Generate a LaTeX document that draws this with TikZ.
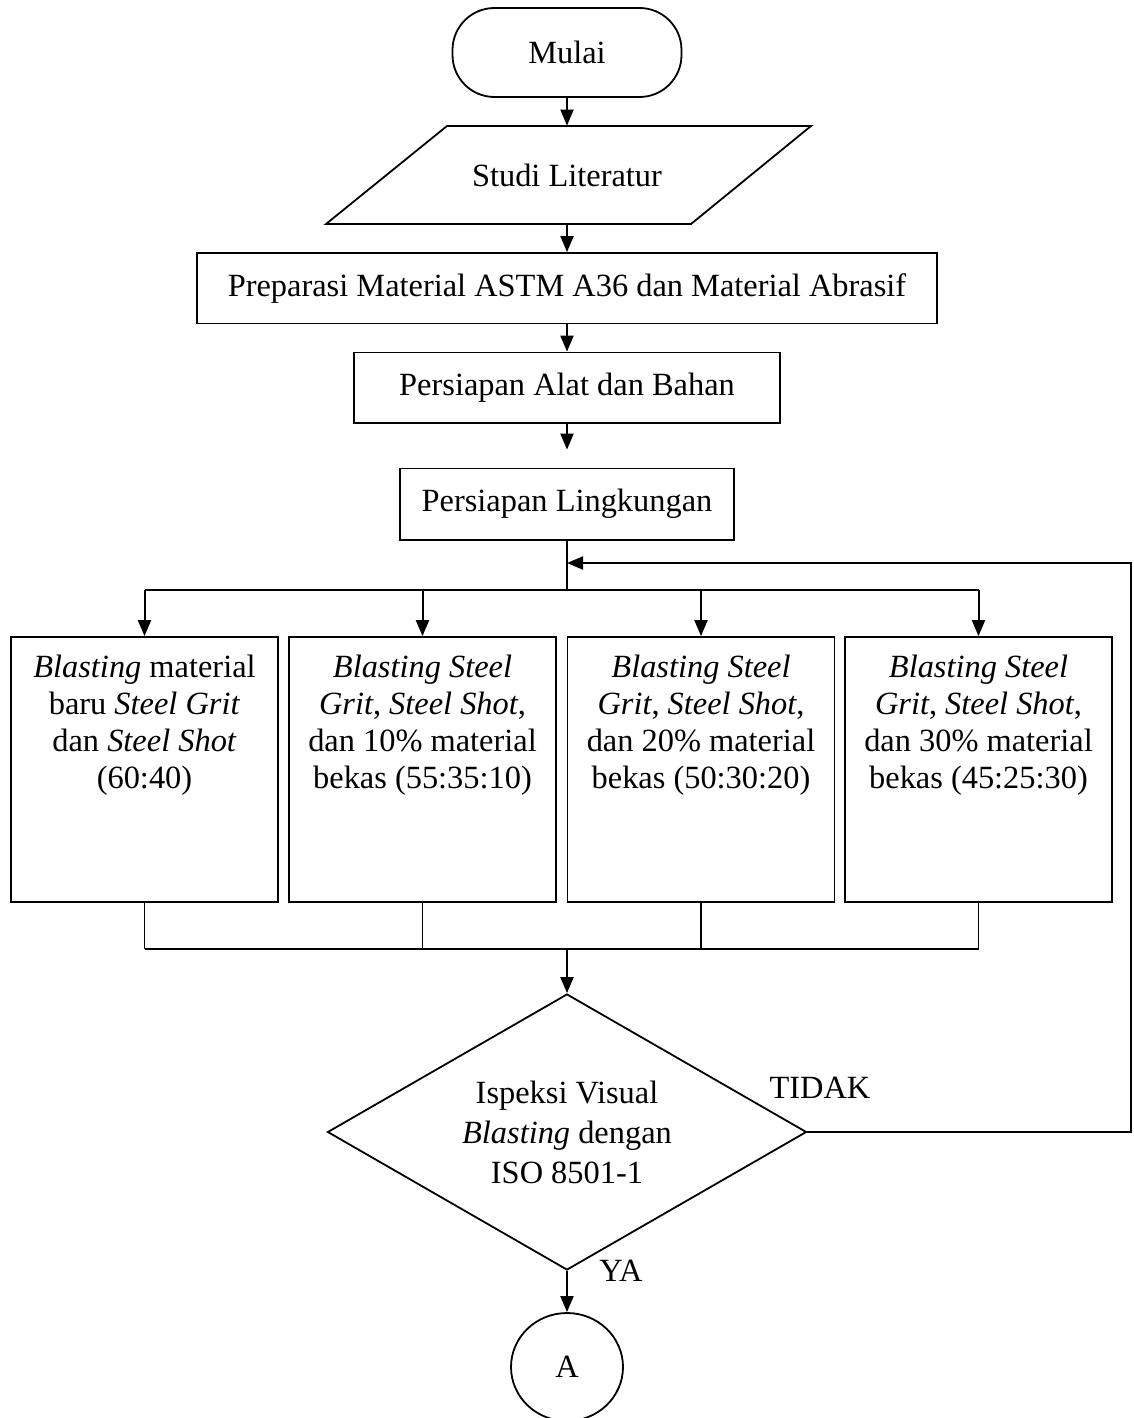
\documentclass[tikz,border=0pt]{standalone}
\usepackage{fontspec}
\setmainfont{Liberation Serif}
\usetikzlibrary{arrows.meta,shapes.geometric,calc}
\begin{document}
\begin{tikzpicture}[x=0.5pt,y=-0.5pt,
  every node/.style={font=\fontsize{16.2}{18.5}\selectfont},
  proc/.style={draw, line width=0.9pt, inner sep=0pt, align=center},
  arr/.style={line width=1pt, -{Triangle[length=8pt,width=6.5pt]}},
  ln/.style={line width=1pt},
  thinln/.style={line width=0.6pt},
  bigbox/.style={draw, line width=0.9pt, minimum width=133.5pt, minimum height=132.5pt, inner sep=0pt},
  boxtext/.style={anchor=north, inner sep=0pt, align=center}]
\useasboundingbox (0,0) rectangle (1134,1418);

\node[proc, rounded corners=21pt, minimum width=114.5pt, minimum height=44.5pt] (mulai) at (567,52.5) {Mulai};

\draw[line width=0.9pt] (447,126) -- (811,126) -- (691,224) -- (326,224) -- cycle;
\node[inner sep=0pt, minimum height=49pt] (studi) at (567,175) {Studi Literatur};

\node[proc, minimum width=369.75pt, minimum height=35.25pt] (prep) at (567,288.25) {Preparasi Material ASTM A36 dan Material Abrasif};
\node[proc, minimum width=212.75pt, minimum height=35.25pt] (alat) at (567,387.75) {Persiapan Alat dan Bahan};
\node[proc, minimum width=167pt, minimum height=35.75pt] (ling) at (567,504.25) {Persiapan Lingkungan};

\node[bigbox] (b1) at (144.5,769.5) {};
\node[bigbox] (b2) at (422.5,769.5) {};
\node[bigbox] (b3) at (701,769.5) {};
\node[bigbox] (b4) at (978.5,769.5) {};

\node[boxtext] (t1) at (144.5,655) {\textit{Blasting} material\\ baru \textit{Steel Grit}\\ dan \textit{Steel Shot}\\ (60:40)};
\node[boxtext] (t2) at (422.5,655) {\textit{Blasting Steel}\\ \textit{Grit}, \textit{Steel Shot},\\ dan 10\% material\\ bekas (55:35:10)};
\node[boxtext] (t3) at (701,655) {\textit{Blasting Steel}\\ \textit{Grit}, \textit{Steel Shot},\\ dan 20\% material\\ bekas (50:30:20)};
\node[boxtext] (t4) at (978.5,655) {\textit{Blasting Steel}\\ \textit{Grit}, \textit{Steel Shot},\\ dan 30\% material\\ bekas (45:25:30)};

\node[draw, diamond, shape aspect=1.735, line width=0.9pt, minimum width=239.5pt, minimum height=138pt, inner sep=0pt, align=center] (dec) at (567,1132) {Ispeksi Visual\\[1.5pt] \textit{Blasting} dengan\\[1.5pt] ISO 8501-1};

\node[draw, ellipse, line width=0.9pt, minimum width=56pt, minimum height=54pt, inner sep=0pt] (a) at (567,1367) {A};

\node (tidak) at (820,1088) {TIDAK};
\node (ya) at (621,1271) {YA};

\coordinate (br) at (567,590);
\coordinate (mg) at (567,949);
\coordinate (fb) at (1131,563);

\draw[arr] (mulai) -- (studi);
\draw[arr] (studi) -- (prep);
\draw[arr] (prep) -- (alat);
\draw[arr, shorten >=9pt] (alat) -- (ling);

\draw[thinln] (ling.south) -- (br);
\draw[ln] (b1.north |- br) -- (b4.north |- br);
\draw[arr] (b1.north |- br) -- (b1.north);
\draw[arr] (b2.north |- br) -- (b2.north);
\draw[arr] (b3.north |- br) -- (b3.north);
\draw[arr] (b4.north |- br) -- (b4.north);

\draw[thinln] (b1.south) -- (b1.south |- mg);
\draw[thinln] (b2.south) -- (b2.south |- mg);
\draw[thinln] (b3.south) -- (b3.south |- mg);
\draw[thinln] (b4.south) -- (b4.south |- mg);
\draw[ln] (b1.south |- mg) -- (b4.south |- mg);
\draw[arr] (mg) -- (dec.north);

\draw[arr] (dec.south) -- (a.north);
\draw[arr] (dec.east) -| (fb) -- (ling.south |- fb);
\end{tikzpicture}
\end{document}
